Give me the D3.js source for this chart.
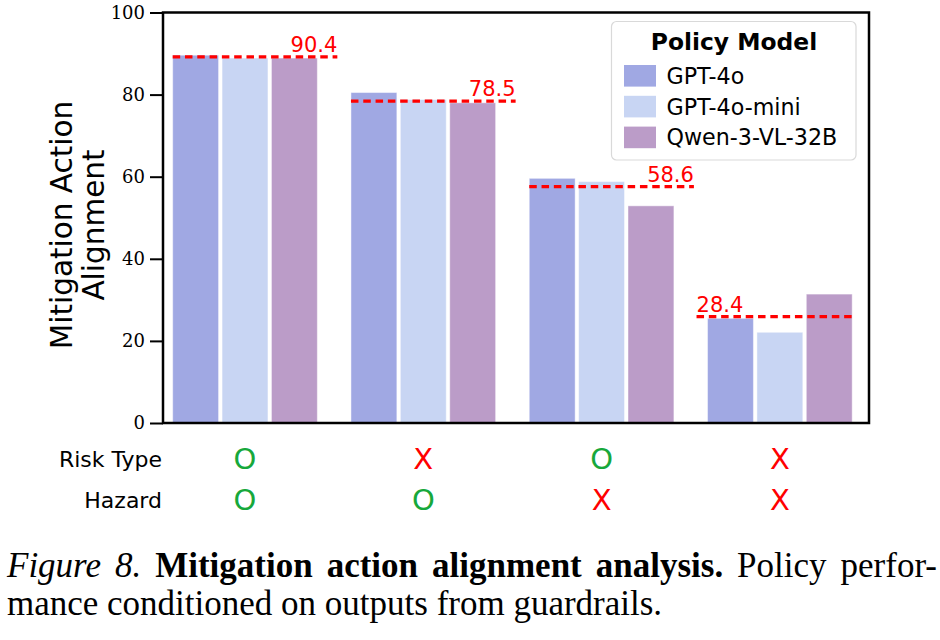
<!DOCTYPE html>
<html>
<head>
<meta charset="utf-8">
<script src="https://cdn.jsdelivr.net/npm/d3@7"></script>
<style>
  body { margin: 0; background: #fff; }
  svg { display: block; }
</style>
</head>
<body>
<svg id="chart"></svg>
<script>
// data
const groups = [0, 1, 2, 3];
const models = ["GPT-4o", "GPT-4o-mini", "Qwen-3-VL-32B"];
const gpt4o = [89.6, 80.5, 59.6, 25.5];
const gpt4oMini = [88.9, 78.8, 58.8, 22.1];
const qwen = [88.9, 78.0, 52.9, 31.4];
const refLevel = [89.2, 78.4, 57.6, 25.9];
const refLabels = ["90.4", "78.5", "58.6", "28.4"];
const labelSide = ["right", "right", "right", "left"];
const riskType = ["O", "X", "O", "X"];
const hazard = ["O", "O", "X", "X"];
const yTicks = [0, 20, 40, 60, 80, 100];

const series = [gpt4o, gpt4oMini, qwen];
const colors = ["#a0a8e3", "#c8d5f3", "#bb9cc8"];
const markColor = { O: "#17a83b", X: "#ff0000" };

var svgWidth = 940, svgHeight = 640;
var plot = { left: 163, right: 869, top: 12.5, bottom: 423 };
var barSlot = 0.277, barGap = 3.5;

var svg = d3.select("#chart")
    .attr("width", svgWidth)
    .attr("height", svgHeight);

var xScale = d3.scaleLinear()
    .domain([-0.46, 3.50])
    .range([plot.left, plot.right]);

var yScale = d3.scaleLinear()
    .domain([0, 100])
    .range([plot.bottom, plot.top]);

var slotPx = xScale(barSlot) - xScale(0);

// bars
series.forEach(function (vals, j) {
    svg.append("g")
        .selectAll("rect")
        .data(groups)
        .join("rect")
        .attr("x", i => xScale(i + (j - 1.5) * barSlot) + barGap / 2)
        .attr("width", slotPx - barGap)
        .attr("y", i => yScale(vals[i]))
        .attr("height", i => yScale(0) - yScale(vals[i]))
        .attr("fill", colors[j])
        .attr("stroke", "#ffffff")
        .attr("stroke-opacity", 0.45)
        .attr("stroke-width", 1);
});

// dashed reference lines with labels
var refG = svg.append("g");
groups.forEach(function (i) {
    var x0 = xScale(i - 1.5 * barSlot) + barGap / 2;
    var x1 = xScale(i + 1.5 * barSlot) - barGap / 2;
    if (labelSide[i] === "right") x1 += 20; else x0 -= 11;
    var yy = yScale(refLevel[i]);
    refG.append("line")
        .attr("x1", x0).attr("x2", x1)
        .attr("y1", yy).attr("y2", yy)
        .attr("stroke", "#ff0000")
        .attr("stroke-width", 3.2)
        .attr("stroke-dasharray", "7.5,4.8");
    refG.append("text")
        .attr("x", labelSide[i] === "right" ? x1 : x0)
        .attr("y", yy - 5)
        .attr("text-anchor", labelSide[i] === "right" ? "end" : "start")
        .attr("font-family", "DejaVu Sans")
        .attr("font-size", 21)
        .attr("fill", "#ff0000")
        .text(refLabels[i]);
});

// y axis
var yAxis = svg.append("g")
    .attr("transform", "translate(" + plot.left + ",0)")
    .call(d3.axisLeft(yScale).tickValues(yTicks).tickSize(13).tickPadding(5));
yAxis.select(".domain").remove();
yAxis.selectAll(".tick line").attr("stroke", "#000").attr("stroke-width", 2);
yAxis.selectAll(".tick text")
    .attr("font-family", "DejaVu Serif")
    .attr("font-size", 18)
    .attr("fill", "#000");

// frame
svg.append("rect")
    .attr("x", plot.left)
    .attr("y", plot.top)
    .attr("width", plot.right - plot.left)
    .attr("height", plot.bottom - plot.top)
    .attr("fill", "none")
    .attr("stroke", "#000")
    .attr("stroke-width", 2.5);

// y label
var yLab = svg.append("text")
    .attr("transform", "translate(71.5,225) rotate(-90)")
    .attr("text-anchor", "middle")
    .attr("font-family", "DejaVu Sans")
    .attr("font-size", 29.5)
    .attr("fill", "#000");
yLab.append("tspan").attr("x", 0).text("Mitigation Action");
yLab.append("tspan").attr("x", 0).attr("dy", 32).text("Alignment");

// legend
var leg = svg.append("g");
leg.append("rect")
    .attr("x", 611.5).attr("y", 21.5)
    .attr("width", 244.5).attr("height", 138.5)
    .attr("rx", 5)
    .attr("fill", "#fff").attr("fill-opacity", 0.8)
    .attr("stroke", "#d9d9d9").attr("stroke-width", 1.2);
leg.append("text")
    .attr("x", 734).attr("y", 50)
    .attr("text-anchor", "middle")
    .attr("font-family", "DejaVu Sans")
    .attr("font-weight", "bold")
    .attr("font-size", 23.4)
    .attr("fill", "#000")
    .text("Policy Model");
models.forEach(function (m, j) {
    var cy = 75.8 + j * 30.8;
    leg.append("rect")
        .attr("x", 624).attr("y", cy - 10.8)
        .attr("width", 32).attr("height", 21.6)
        .attr("fill", colors[j]);
    leg.append("text")
        .attr("x", 666.5).attr("y", cy + 8)
        .attr("font-family", "DejaVu Sans")
        .attr("font-size", 22.2)
        .attr("fill", "#000")
        .text(m);
});

// condition rows under the axis
var rows = [
    { name: "Risk Type", marks: riskType, cy: 458.5 },
    { name: "Hazard", marks: hazard, cy: 499.5 }
];
rows.forEach(function (r) {
    svg.append("text")
        .attr("x", 162).attr("y", r.cy + 8)
        .attr("text-anchor", "end")
        .attr("font-family", "DejaVu Sans")
        .attr("font-size", 22)
        .attr("fill", "#000")
        .text(r.name);
    svg.append("g")
        .selectAll("text")
        .data(groups)
        .join("text")
        .attr("x", i => xScale(i))
        .attr("y", r.cy + 10.5)
        .attr("text-anchor", "middle")
        .attr("font-family", "DejaVu Sans")
        .attr("font-size", 29)
        .attr("fill", i => markColor[r.marks[i]])
        .text(i => r.marks[i]);
});

// caption
var cap1 = svg.append("text")
    .attr("x", 7).attr("y", 577)
    .attr("font-family", "Liberation Serif")
    .attr("font-size", 35)
    .attr("fill", "#000");
cap1.append("tspan").attr("font-style", "italic").text("Figure 8.");
cap1.append("tspan").attr("dx", 14).attr("font-weight", "bold")
    .text("Mitigation action alignment analysis.");
cap1.append("tspan").text(" Policy perfor-");
var natural = cap1.node().getComputedTextLength();
cap1.attr("word-spacing", Math.max(0, (916 - natural) / 6));

svg.append("text")
    .attr("x", 7).attr("y", 615)
    .attr("font-family", "Liberation Serif")
    .attr("font-size", 35)
    .attr("fill", "#000")
    .text("mance conditioned on outputs from guardrails.");
</script>
</body>
</html>
